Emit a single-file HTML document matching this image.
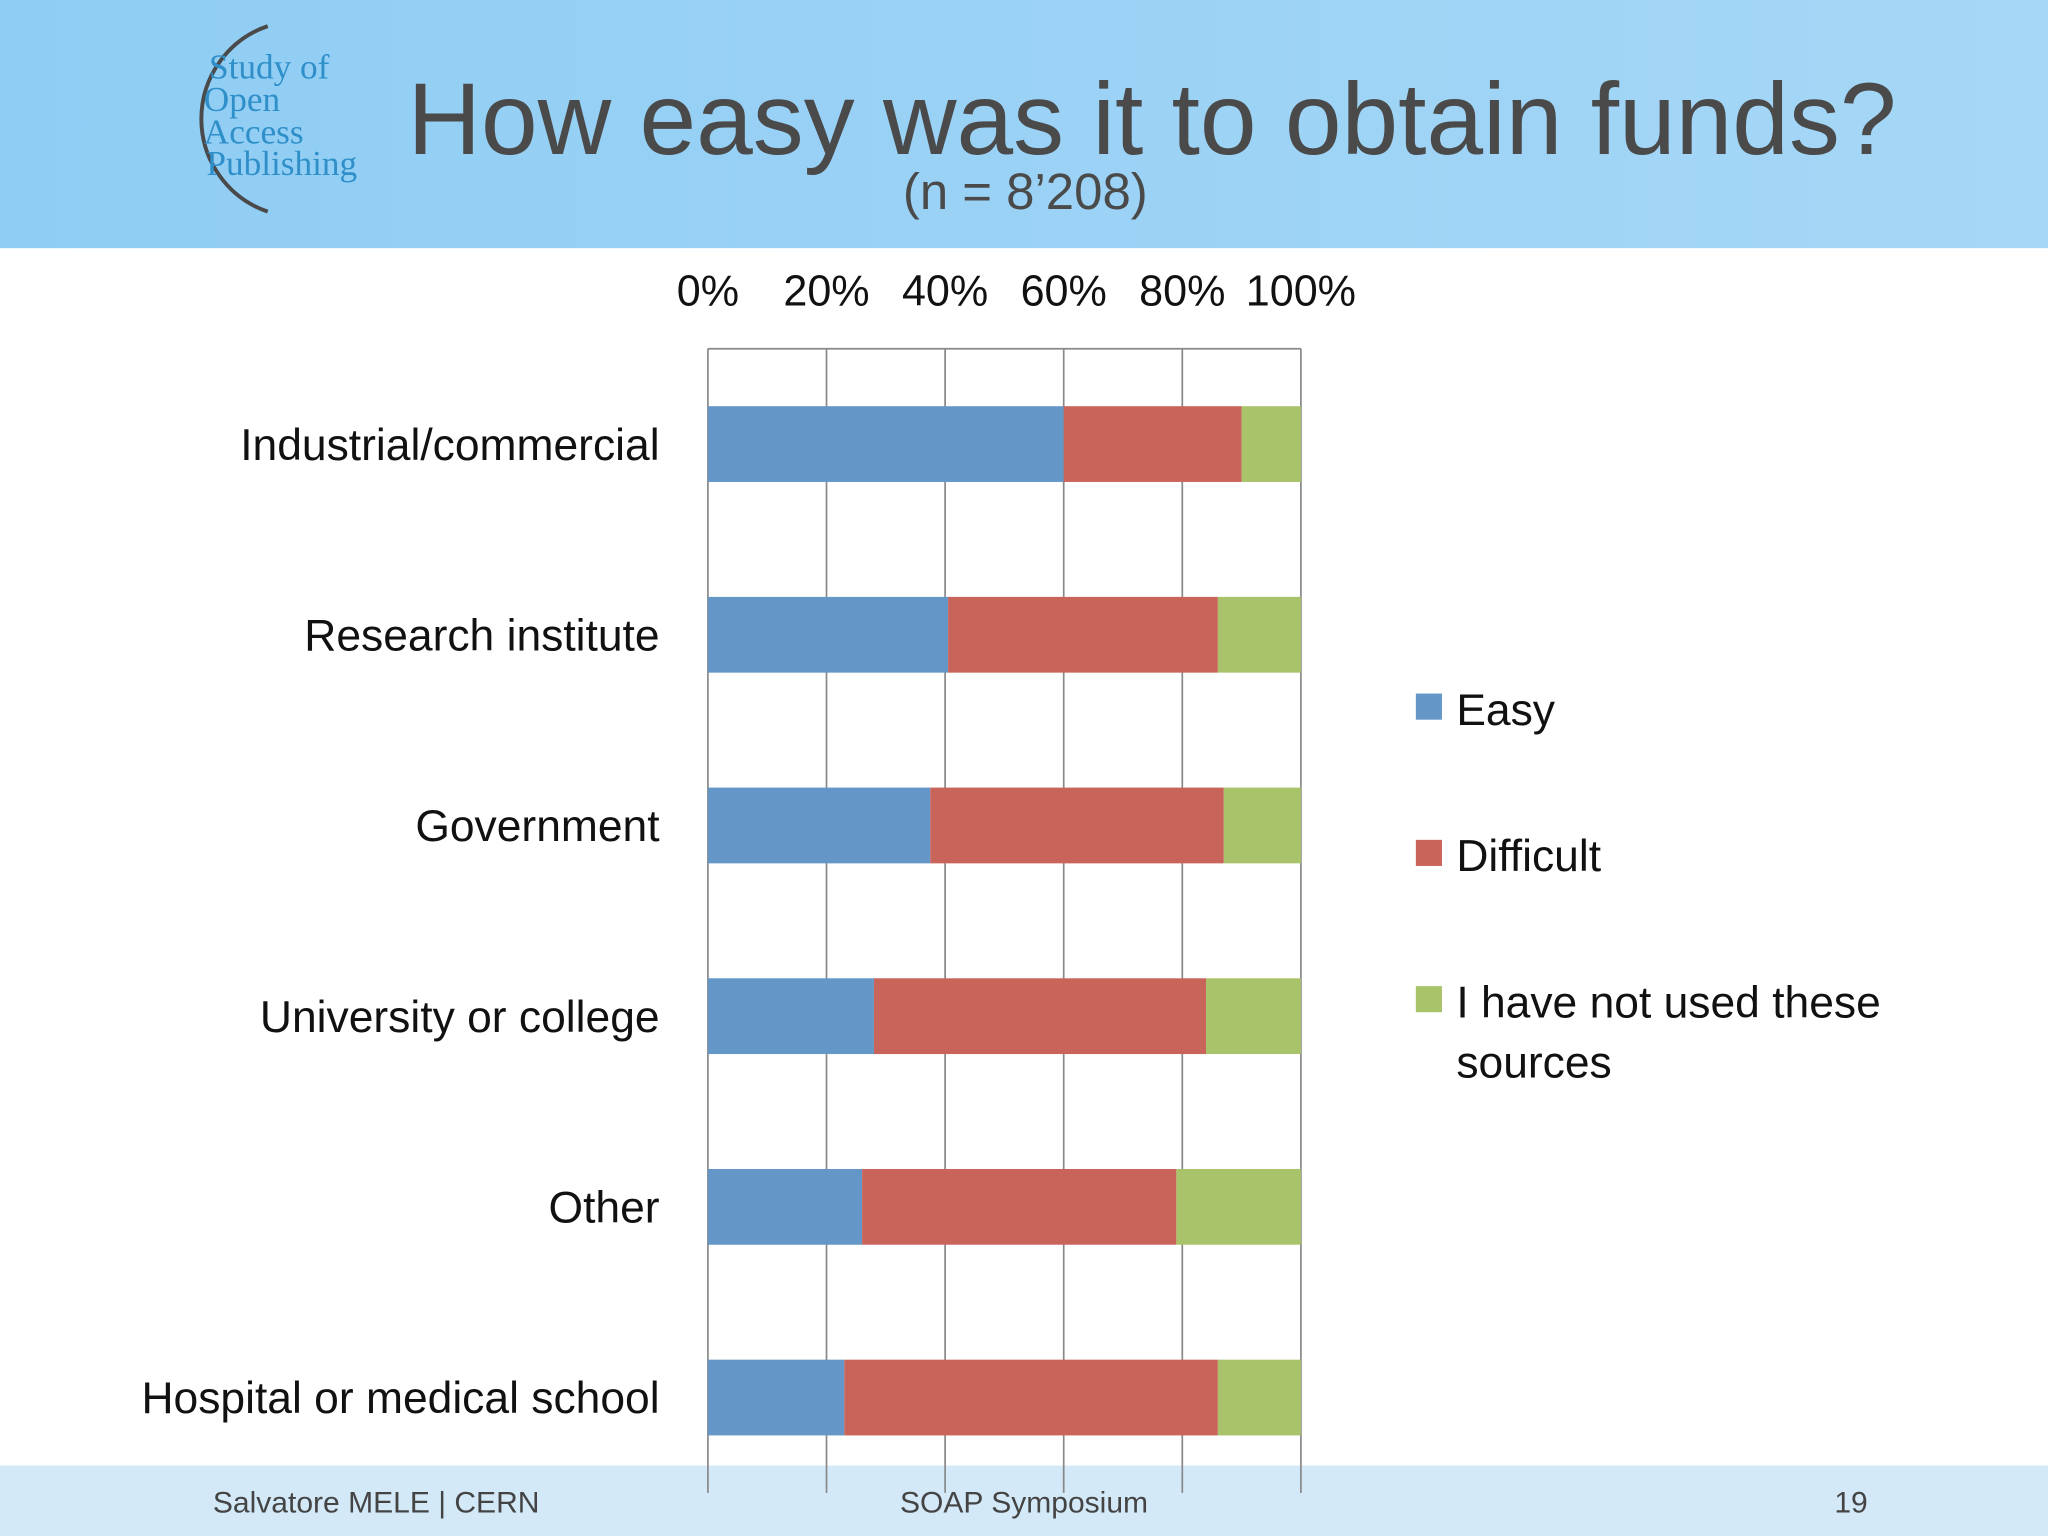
<!DOCTYPE html>
<html><head><meta charset="utf-8"><style>
html,body{margin:0;padding:0;background:#fff}
svg{display:block}
text{font-family:"Liberation Sans",sans-serif}
text.serif{font-family:"Liberation Serif",serif}
</style></head><body>
<svg id="chart" width="2048" height="1536" viewBox="0 0 1568 1176" xmlns="http://www.w3.org/2000/svg">
<defs><linearGradient id="hg" x1="0" x2="1"><stop offset="0" stop-color="#8fcdf4"/><stop offset="1" stop-color="#a6d7f6"/></linearGradient></defs>
<rect x="0" y="0" width="1568" height="190" fill="url(#hg)"/>
<rect x="0" y="1122" width="1568" height="54" fill="#d3e9f8"/>
<g>
<path d="M205 20 A75 75 0 0 0 205 162" fill="none" stroke="#4a4a4a" stroke-width="3"/>
<text class="serif" x="160" y="60" font-size="27" fill="#2f8fc9">Study of</text>
<text class="serif" x="156" y="85" font-size="27" fill="#2f8fc9">Open</text>
<text class="serif" x="156" y="110" font-size="27" fill="#2f8fc9">Access</text>
<text class="serif" x="158" y="134" font-size="27" fill="#2f8fc9">Publishing</text>
</g>
<text x="882" y="118" text-anchor="middle" font-size="78" fill="#4a4a4a">How easy was it to obtain funds?</text>
<text x="785" y="160" text-anchor="middle" font-size="39" fill="#4a4a4a">(n = 8’208)</text>
<g id="plot"></g>
<g>
<rect x="1084" y="531" width="20" height="20" fill="#6496c8"/>
<text x="1115" y="555" font-size="34" fill="#111">Easy</text>
<rect x="1084" y="643" width="20" height="20" fill="#c9645a"/>
<text x="1115" y="667" font-size="34" fill="#111">Difficult</text>
<rect x="1084" y="755" width="20" height="20" fill="#a9c36a"/>
<text x="1115" y="779" font-size="34" fill="#111">I have not used these</text>
<text x="1115" y="825" font-size="34" fill="#111">sources</text>
</g>
<text x="163" y="1158" font-size="23" fill="#444">Salvatore MELE | CERN</text>
<text x="784" y="1158" text-anchor="middle" font-size="23" fill="#444">SOAP Symposium</text>
<text x="1430" y="1158" text-anchor="end" font-size="23" fill="#444">19</text>
</svg>
<script>
const categories=["Industrial/commercial","Research institute","Government","University or college","Other","Hospital or medical school"];
const easy=[60,40.5,37.5,28,26,23];
const difficult=[30,45.5,49.5,56,53,63];
const notUsed=[10,14,13,16,21,14];
const ticks=[0,20,40,60,80,100];
const NS="http://www.w3.org/2000/svg";
const plotG=document.getElementById('plot');
const X0=542,X1=996,PTOP=267,PBOT=1143;
const xs=v=>X0+(X1-X0)*v/100;
function mk(t,a){const e=document.createElementNS(NS,t);for(const k in a)e.setAttribute(k,a[k]);plotG.appendChild(e);return e;}
ticks.forEach((t)=>{
 const l=mk('line',{x1:xs(t),x2:xs(t),y1:PTOP,y2:PBOT,stroke:'#888','stroke-width':1.3});
 
 
 const tx=mk('text',{x:xs(t),y:234,'text-anchor':'middle','font-size':33,fill:'#111'});
 tx.textContent=t+'%';
 
 
});
const tl=mk('line',{x1:X0,x2:X1,y1:PTOP,y2:PTOP,stroke:'#888','stroke-width':1.3});


const h=58;
categories.forEach((c,i)=>{
 const yy=PTOP+44+i*146;
 let s=0;
 [[easy,'#6496c8','easy'],[difficult,'#c9645a','difficult'],[notUsed,'#a9c36a','not-used']].forEach(([arr,col,n])=>{
  const r=mk('rect',{x:xs(s),y:yy,width:xs(s+arr[i])-xs(s),height:h,fill:col});
  
  
  s+=arr[i];
 });
 const t=mk('text',{x:505,y:yy+h/2+12,'text-anchor':'end','font-size':34,fill:'#111'});
 t.textContent=c;
 
 
});
</script>
</body></html>
